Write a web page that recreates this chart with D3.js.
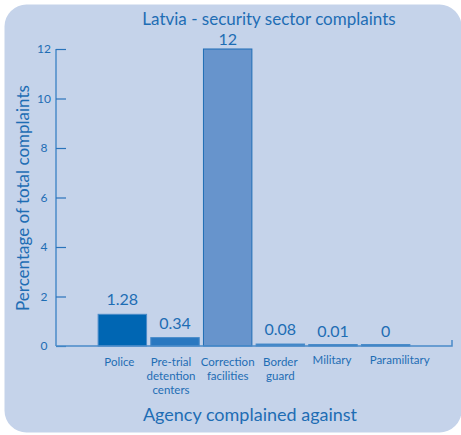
<!DOCTYPE html>
<html><head><meta charset="utf-8">
<script src="https://cdn.jsdelivr.net/npm/d3@7"></script>
<style>body{margin:0;background:#fff}svg{display:block;font-family:Lato,"Open Sans",sans-serif}</style>
</head><body>
<script>
const categories = ["Police", "Pre-trial detention centers", "Correction facilities", "Border guard", "Military", "Paramilitary"];
const categoryLines = [["Police"], ["Pre-trial", "detention", "centers"], ["Correction", "facilities"], ["Border", "guard"], ["Military"], ["Paramilitary"]];
const values = [1.28, 0.34, 12, 0.08, 0.01, 0];
const valueLabels = ["1.28", "0.34", "12", "0.08", "0.01", "0"];
const barColors = ["#0066b3", "#2a78c0", "#6794cc", "#3a84c6", "#1566b2", "#1566b2"];
const yTicks = [0, 2, 4, 6, 8, 10, 12];

const W = 461, H = 435;
const svg = d3.select("body").append("svg").attr("width", W).attr("height", H);
const txt = "#1e6db4";

svg.append("rect").attr("x", 4.5).attr("y", 4.5).attr("width", 457).attr("height", 428)
  .attr("rx", 22).attr("fill", "#c5d3ea");

const x = d3.scaleBand().domain(categories).range([56, 452]).paddingInner(0.08).paddingOuter(0.8);
const y = d3.scaleLinear().domain([0, 12]).range([346, 49]);

// bars
svg.selectAll("rect.bar").data(values).enter().append("rect")
  .attr("class", "bar")
  .attr("x", (d, i) => x(categories[i]))
  .attr("width", x.bandwidth())
  .attr("y", d => Math.min(y(d), y(0) - 1.5))
  .attr("height", d => Math.max(y(0) - y(d), 1.5))
  .attr("fill", (d, i) => barColors[i])
  .attr("stroke", (d, i) => i === 2 ? "#1f6db5" : "#4a8bc9")
  .attr("stroke-width", 1);

// y axis
const yAxis = d3.axisRight(y).tickValues(yTicks).tickSize(10).tickFormat("");
const ga = svg.append("g").attr("transform", "translate(56,0)").call(yAxis);
ga.select(".domain").attr("stroke", "#4a8bc9").attr("stroke-width", 1.5).attr("d", `M0,${y(12)}V${y(0)}`);
ga.selectAll(".tick line").attr("stroke", "#2a74bb").attr("stroke-width", 1.2);
svg.selectAll("text.ytick").data(yTicks).enter().append("text")
  .attr("class", "ytick").attr("x", 44).attr("y", d => y(d) + 4)
  .attr("text-anchor", "middle").attr("fill", txt).attr("font-size", 12).text(d => d);

// x axis baseline
svg.append("path").attr("d", `M56,${y(0)}H452V${y(0) - 6}`).attr("fill", "none")
  .attr("stroke", "#4a8bc9").attr("stroke-width", 1.5);

// value labels
svg.selectAll("text.val").data(values).enter().append("text")
  .attr("class", "val")
  .attr("x", (d, i) => x(categories[i]) + x.bandwidth() / 2)
  .attr("y", d => Math.max(Math.min(y(d) - 9, 341), 45))
  .attr("text-anchor", "middle").attr("fill", txt).attr("font-size", 16)
  .text((d, i) => valueLabels[i]);

// category labels
const labelShift = [-3, -4, 0, 0, -1, 14];
categoryLines.forEach((lines, i) => {
  const cx = x(categories[i]) + x.bandwidth() / 2 + labelShift[i];
  lines.forEach((l, j) => svg.append("text").attr("text-anchor", "middle").attr("fill", txt)
    .attr("font-size", 11.5).attr("x", cx).attr("y", (i >= 4 ? 364 : 366) + j * 14).text(l));
});

// titles
svg.append("text").attr("x", 269).attr("y", 25).attr("text-anchor", "middle")
  .attr("fill", txt).attr("font-size", 17).text("Latvia - security sector complaints");
svg.append("text").attr("x", 250).attr("y", 421).attr("text-anchor", "middle")
  .attr("fill", txt).attr("font-size", 18).text("Agency complained against");
svg.append("text").attr("transform", "translate(29,198) rotate(-90)").attr("text-anchor", "middle")
  .attr("fill", txt).attr("font-size", 17).text("Percentage of total complaints");
</script>
</body></html>
